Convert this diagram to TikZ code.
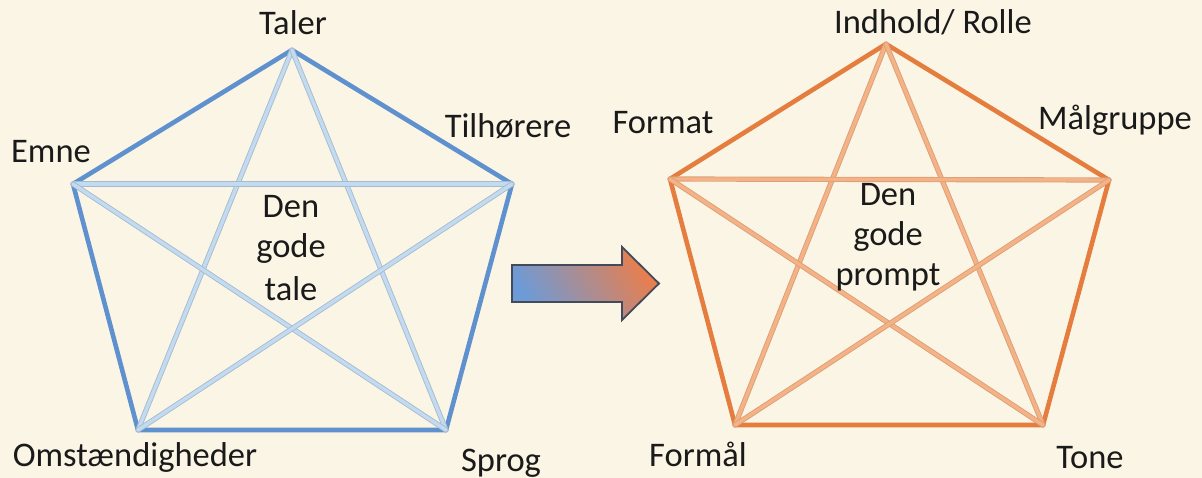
\documentclass[tikz,border=0pt]{standalone}
\usepackage{fontspec}
\setmainfont{Carlito}
\definecolor{bg}{HTML}{FBF5E5}
\definecolor{blueout}{HTML}{5F91CF}
\definecolor{bluein}{HTML}{C3DBF0}
\definecolor{blueedge}{HTML}{A7BBCF}
\definecolor{orout}{HTML}{E47D3E}
\definecolor{orin}{HTML}{F3B386}
\definecolor{oredge}{HTML}{DE9E76}
\definecolor{arrblue}{HTML}{6C9BD8}
\definecolor{arrorange}{HTML}{EA7E4C}
\definecolor{arredge}{HTML}{434A5A}
\definecolor{txt}{HTML}{1A1A1A}
\tikzset{
  lbl/.style={font=\fontsize{34.5}{41}\selectfont, text=txt, inner sep=0pt, align=center},
  outerB/.style={draw=blueout, line width=4.6pt, line join=round, line cap=round},
  starB/.style={draw=blueedge, line width=0.9pt, double=bluein, double distance=3.4pt, line cap=round},
  outerO/.style={draw=orout, line width=4.6pt, line join=round, line cap=round},
  starO/.style={draw=oredge, line width=0.9pt, double=orin, double distance=3.4pt, line cap=round},
}
\begin{document}
\begin{tikzpicture}[x=1pt,y=-1pt]
\fill[bg] (0,0) rectangle (1202,478);
\useasboundingbox (0,0) rectangle (1202,478);
% left pentagon vertices
\coordinate (LT) at (292,50);
\coordinate (LR) at (512,184);
\coordinate (LBR) at (446,430);
\coordinate (LBL) at (138,430);
\coordinate (LL) at (73,184);
% right pentagon vertices
\coordinate (RT) at (886,44);
\coordinate (RR) at (1109,180);
\coordinate (RBR) at (1043,425);
\coordinate (RBL) at (735,425);
\coordinate (RL) at (670,179);
% outer edges
\draw[outerB] (LT) -- (LR) -- (LBR) -- (LBL) -- (LL) -- cycle;
\draw[outerO] (RT) -- (RR) -- (RBR) -- (RBL) -- (RL) -- cycle;
% star
\draw[starB] (LT) -- (LBL);
\draw[starB] (LT) -- (LBR);
\draw[starB] (LL) -- (LR);
\draw[starB] (LL) -- (LBR);
\draw[starB] (LR) -- (LBL);
\draw[starO] (RT) -- (RBL);
\draw[starO] (RT) -- (RBR);
\draw[starO] (RL) -- (RR);
\draw[starO] (RL) -- (RBR);
\draw[starO] (RR) -- (RBL);
% labels left
\node[lbl] (taler) at (293,23) {Taler};
\node[lbl] (tilh) at (508,126) {Tilhørere};
\node[lbl] (emne) at (51,152) {Emne};
\node[lbl] (omst) at (135,457) {Omstændigheder};
\node[lbl] (sprog) at (501,463) {Sprog};
\node[lbl] (c1a) at (291,207) {Den};
\node[lbl] (c1b) at (291,248) {gode};
\node[lbl] (c1c) at (291,289) {tale};
% labels right
\node[lbl] (indh) at (933,22) {Indhold/ Rolle};
\node[lbl] (format) at (663,123) {Format};
\node[lbl] (maal) at (1115,120) {Målgruppe};
\node[lbl] (formaal) at (698,454) {Formål};
\node[lbl] (tone) at (1090,458) {Tone};
\node[lbl] (c2a) at (888,195) {Den};
\node[lbl] (c2b) at (888,236) {gode};
\node[lbl] (c2c) at (888,277) {prompt};
% block arrow
\shadedraw[draw=arredge, line width=1.8pt, line join=miter,
  bottom color=arrblue, top color=arrorange, shading angle=-60]
  (512,265) -- (622,265) -- (622,247) -- (659,283.5) -- (622,320) -- (622,302) -- (512,302) -- cycle;
\end{tikzpicture}
\end{document}
